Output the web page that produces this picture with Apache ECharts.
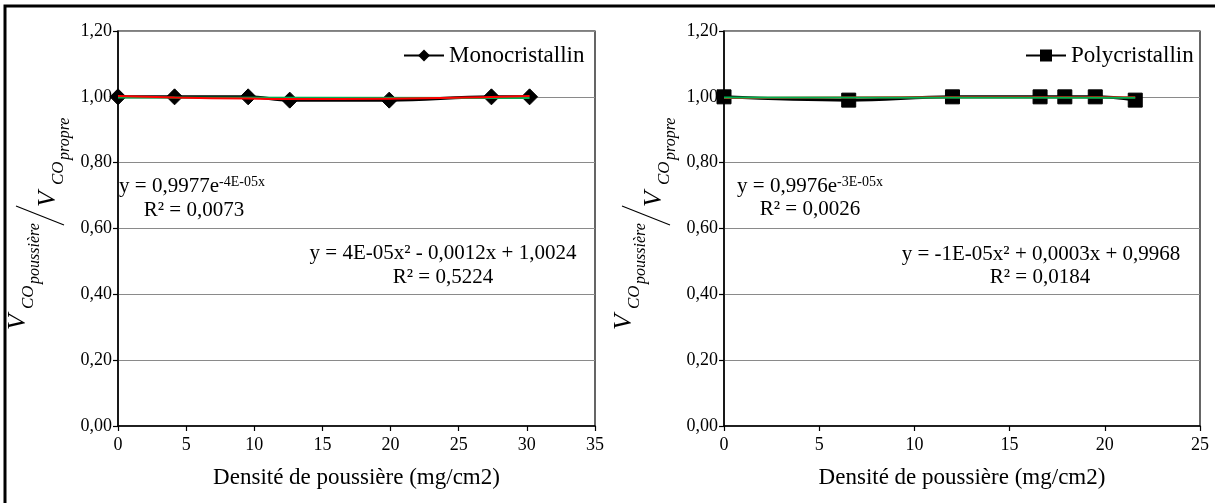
<!DOCTYPE html>
<html>
<head>
<meta charset="utf-8">
<script src="https://cdn.jsdelivr.net/npm/echarts@6/dist/echarts.min.js"></script>
<style>
html,body{margin:0;padding:0;background:#fff;}
#c{width:1215px;height:503px;}
</style>
</head>
<body>
<div id="c"></div>
<script>
// ---- data ----
const monoName = 'Monocristallin';
const polyName = 'Polycristallin';
const monoX = [0, 4.15, 9.55, 12.6, 19.9, 27.4, 30.2];
const monoY = [1.00, 1.00, 1.00, 0.99, 0.99, 1.00, 1.00];
const polyX = [0, 6.55, 12.0, 16.6, 17.9, 19.5, 21.6];
const polyY = [1.00, 0.99, 1.00, 1.00, 1.00, 1.00, 0.99];
// trend lines
const monoPolyTrend = [1.0024, 0.9981, 0.9946, 0.9936, 0.9944, 0.9996, 1.0026];
const monoExpTrendX = [0, 30.2];
const monoExpTrend = [0.9977, 0.9965];
const polyPolyTrend = [0.9968, 0.9983, 0.9990, 0.9990, 0.9990, 0.9989, 0.9986];
const polyExpTrendX = [0, 21.6];
const polyExpTrend = [0.9976, 0.9970];
// axis setup
const yTicks = [0, 0.2, 0.4, 0.6, 0.8, 1.0, 1.2];
const monoXMax = 35, polyXMax = 25, xStep = 5;
const xTitle = 'Densité de poussière (mg/cm2)';
const monoEqExp = ['y = 0,9977e', '-4E-05x', 'R² = 0,0073'];
const monoEqPoly = ['y = 4E-05x² - 0,0012x + 1,0024', 'R² = 0,5224'];
const polyEqExp = ['y = 0,9976e', '-3E-05x', 'R² = 0,0026'];
const polyEqPoly = ['y = -1E-05x² + 0,0003x + 0,9968', 'R² = 0,0184'];

const FF = '"Liberation Serif", "Times New Roman", serif';
const zip = (xs, ys) => xs.map((x, i) => [x, ys[i]]);

function xAxis(idx, max) {
  return {
    type: 'value', gridIndex: idx, min: 0, max: max, interval: xStep,
    axisLine: {show: true, onZero: false, lineStyle: {color: '#000', width: 1.5}},
    axisTick: {show: true, length: 5, lineStyle: {color: '#000', width: 1.2}},
    splitLine: {show: false},
    axisLabel: {fontSize: 18, color: '#000', fontFamily: FF, margin: 10},
    name: xTitle, nameLocation: 'middle', nameGap: 40,
    nameTextStyle: {fontSize: 23, color: '#000', fontFamily: FF}
  };
}
function yAxis(idx) {
  return {
    type: 'value', gridIndex: idx, min: yTicks[0], max: yTicks[yTicks.length - 1], interval: 0.2,
    axisLine: {show: true, lineStyle: {color: '#000', width: 1.5}},
    axisTick: {show: true, length: 5, lineStyle: {color: '#000', width: 1.2}},
    splitLine: {show: true, lineStyle: {color: '#8a8a8a', width: 1}},
    axisLabel: {fontSize: 18, color: '#000', fontFamily: FF, margin: 6,
      formatter: v => v.toFixed(2).replace('.', ',')}
  };
}
function yTitle(ox) {
  const t = (x, y, text, size) => ({
    type: 'text', x: x, y: y,
    style: {text: text, fill: '#000', font: 'italic ' + size + 'px ' + FF,
      align: 'left', verticalAlign: 'middle', textAlign: 'left', textVerticalAlign: 'middle'}
  });
  return {
    type: 'group', x: ox, y: 330, rotation: Math.PI / 2,
    children: [
      t(0, 18, 'V', 26),
      t(21, 29, 'CO', 17),
      t(46, 35, 'poussière', 16),
      {type: 'line', shape: {x1: 105, y1: 64, x2: 124, y2: 16}, style: {stroke: '#000', lineWidth: 1.1}},
      t(123, 48, 'V', 26),
      t(145, 59, 'CO', 17),
      t(170, 65, 'propre', 16)
    ]
  };
}
function eqText(x, y, parts) {
  const rich = {
    a: {fontSize: 21, fontFamily: FF, color: '#000', fill: '#000'},
    s: {fontSize: 14, fontFamily: FF, color: '#000', fill: '#000', verticalAlign: 'top'}
  };
  return {
    type: 'text', x: x, y: y,
    style: {text: parts, rich: rich, fill: '#000', font: '21px ' + FF,
      align: 'center', verticalAlign: 'middle', textAlign: 'center', textVerticalAlign: 'middle'}
  };
}
function plain(x, y, s) {
  return {
    type: 'text', x: x, y: y,
    style: {text: s, fill: '#000', font: '21px ' + FF,
      align: 'center', verticalAlign: 'middle', textAlign: 'center', textVerticalAlign: 'middle'}
  };
}

const chart = echarts.init(document.getElementById('c'), null, {renderer: 'canvas'});
chart.setOption({
  backgroundColor: '#fff',
  animation: false,
  grid: [
    {left: 118, top: 31, width: 477, height: 395, show: true, borderColor: '#000', borderWidth: 1.2, backgroundColor: 'transparent'},
    {left: 724, top: 31, width: 476, height: 395, show: true, borderColor: '#000', borderWidth: 1.2, backgroundColor: 'transparent'}
  ],
  xAxis: [xAxis(0, monoXMax), xAxis(1, polyXMax)],
  yAxis: [yAxis(0), yAxis(1)],
  legend: [
    {data: [monoName], left: 398, top: 39, itemWidth: 40, itemHeight: 15, itemGap: 4,
      textStyle: {fontSize: 23, color: '#000', fontFamily: FF}},
    {data: [polyName], left: 1020, top: 39, itemWidth: 40, itemHeight: 15, itemGap: 4,
      textStyle: {fontSize: 23, color: '#000', fontFamily: FF}}
  ],
  series: [
    {name: monoName, type: 'line', xAxisIndex: 0, yAxisIndex: 0, data: zip(monoX, monoY),
      smooth: 0.4, symbol: 'diamond', symbolSize: 16, showAllSymbol: true,
      lineStyle: {color: '#000', width: 3}, itemStyle: {color: '#000', borderColor: '#000'}, z: 2},
    {name: polyName, type: 'line', xAxisIndex: 1, yAxisIndex: 1, data: zip(polyX, polyY),
      smooth: 0.4, symbol: 'rect', symbolSize: 14, showAllSymbol: true,
      lineStyle: {color: '#000', width: 3}, itemStyle: {color: '#000', borderColor: '#000'}, z: 2},
    {name: 'monoExp', type: 'line', xAxisIndex: 0, yAxisIndex: 0, data: zip(monoExpTrendX, monoExpTrend),
      symbol: 'none', lineStyle: {color: '#00b050', width: 2}, z: 3, silent: true},
    {name: 'monoPoly', type: 'line', xAxisIndex: 0, yAxisIndex: 0, data: zip(monoX, monoPolyTrend),
      smooth: true, symbol: 'none', lineStyle: {color: '#ff0000', width: 2}, z: 4, silent: true},
    {name: 'polyPoly', type: 'line', xAxisIndex: 1, yAxisIndex: 1, data: zip(polyX, polyPolyTrend),
      smooth: true, symbol: 'none', lineStyle: {color: '#ff0000', width: 2}, z: 3, silent: true},
    {name: 'polyExp', type: 'line', xAxisIndex: 1, yAxisIndex: 1, data: zip(polyExpTrendX, polyExpTrend),
      symbol: 'none', lineStyle: {color: '#00b050', width: 2}, z: 4, silent: true}
  ],
  graphic: [
    {type: 'rect', shape: {x: 5, y: 6, width: 1230, height: 520}, style: {fill: 'none', stroke: '#000', lineWidth: 3}, z: 100},
    yTitle(0),
    yTitle(606),
    eqText(192, 186, '{a|' + monoEqExp[0] + '}{s|' + monoEqExp[1] + '}'),
    plain(194, 210, monoEqExp[2]),
    plain(443, 253, monoEqPoly[0]),
    plain(443, 277, monoEqPoly[1]),
    eqText(810, 186, '{a|' + polyEqExp[0] + '}{s|' + polyEqExp[1] + '}'),
    plain(810, 209, polyEqExp[2]),
    plain(1041, 254, polyEqPoly[0]),
    plain(1040, 277, polyEqPoly[1])
  ]
});
</script>
</body>
</html>
